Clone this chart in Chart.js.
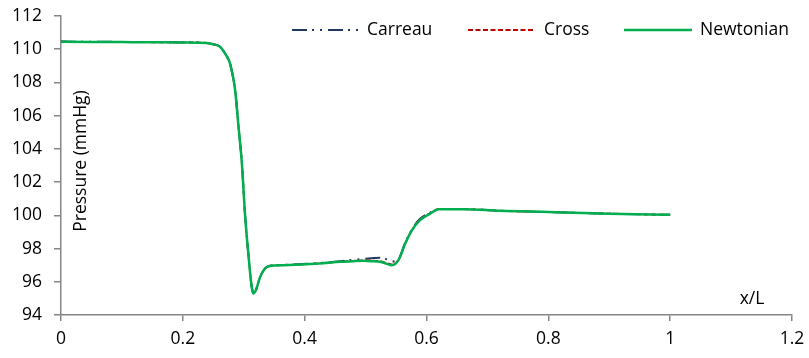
<!DOCTYPE html>
<html><head><meta charset="utf-8">
<script src="https://cdn.jsdelivr.net/npm/chart.js@4"></script>
<style>html,body{margin:0;padding:0;background:#fff}#wrap{width:809px;height:358px;position:relative}</style>
</head><body><div id="wrap"><canvas id="c"></canvas></div>
<script>
const xValues   = [0, 0.05, 0.10, 0.15, 0.20, 0.239, 0.25, 0.261, 0.27, 0.277, 0.282, 0.286, 0.291, 0.297, 0.302, 0.308, 0.313, 0.316, 0.320, 0.327, 0.335, 0.343, 0.365, 0.403, 0.430, 0.458, 0.480, 0.496, 0.510, 0.524, 0.535, 0.543, 0.554, 0.565, 0.576, 0.589, 0.606, 0.620, 0.661, 0.721, 0.80, 0.90, 1.00];
const newtonian = [110.45, 110.44, 110.43, 110.42, 110.41, 110.38, 110.3, 110.15, 109.7, 109.2, 108.4, 107.5, 105.5, 103.1, 100.1, 97.5, 95.7, 95.3, 95.5, 96.3, 96.8, 96.95, 97.0, 97.06, 97.12, 97.2, 97.24, 97.26, 97.24, 97.2, 97.08, 97.0, 97.3, 98.3, 99.1, 99.7, 100.1, 100.37, 100.37, 100.27, 100.2, 100.1, 100.03];
const cross     = [110.45, 110.44, 110.43, 110.42, 110.41, 110.38, 110.3, 110.15, 109.7, 109.2, 108.4, 107.5, 105.5, 103.1, 100.1, 97.5, 95.7, 95.3, 95.5, 96.3, 96.8, 96.95, 97.0, 97.06, 97.12, 97.21, 97.26, 97.29, 97.28, 97.24, 97.12, 97.04, 97.32, 98.3, 99.1, 99.72, 100.12, 100.37, 100.37, 100.27, 100.2, 100.1, 100.03];
const carreau   = [110.46, 110.45, 110.44, 110.43, 110.41, 110.38, 110.3, 110.15, 109.7, 109.2, 108.4, 107.5, 105.5, 103.1, 100.1, 97.5, 95.7, 95.3, 95.5, 96.3, 96.8, 96.97, 97.02, 97.08, 97.15, 97.24, 97.32, 97.38, 97.42, 97.45, 97.35, 97.22, 97.36, 98.35, 99.15, 99.78, 100.16, 100.38, 100.38, 100.28, 100.2, 100.1, 100.03];
const xTickLabels = ['0', '0.2', '0.4', '0.6', '0.8', '1', '1.2'];
const yTickLabels = ['94', '96', '98', '100', '102', '104', '106', '108', '110', '112'];
const seriesNames = ['Carreau', 'Cross', 'Newtonian'];

const FONT = '"Open Sans", Lato, sans-serif';
const FSIZE = 17.5;
const AXIS = '#868686';
const pts = arr => xValues.map((x, i) => ({x: x, y: arr[i]}));

const styles = [
  {color: '#1F3864', dash: [15, 5, 2, 6, 2, 6], width: 2, order: 2},
  {color: '#C00000', dash: [5, 2.5], width: 1.8, order: 1},
  {color: '#00B050', dash: [], width: 2.5, order: 0}
];
const seriesData = [carreau, cross, newtonian];

const overlay = {
  id: 'overlay',
  afterDraw(chart) {
    const ctx = chart.ctx;
    ctx.save();
    ctx.fillStyle = '#000';
    ctx.font = FSIZE + 'px ' + FONT;
    ctx.textBaseline = 'middle';
    const lx = [[292, 358, 367], [468, 535, 544], [624, 692, 700]];
    seriesNames.forEach((n, i) => {
      const s = styles[i];
      ctx.beginPath();
      ctx.strokeStyle = s.color;
      ctx.lineWidth = s.width;
      ctx.setLineDash(s.dash);
      ctx.moveTo(lx[i][0], 30); ctx.lineTo(lx[i][1], 30);
      ctx.stroke();
      ctx.setLineDash([]);
      ctx.textAlign = 'left';
      ctx.fillText(n, lx[i][2], 30);
    });
    ctx.textAlign = 'center';
    ctx.fillText('x/L', 752, 299);
    ctx.translate(81, 161);
    ctx.rotate(-Math.PI / 2);
    ctx.fillText('Pressure (mmHg)', 0, 0);
    ctx.restore();
  }
};

new Chart(document.getElementById('c'), {
  type: 'line',
  data: {
    datasets: seriesNames.map((n, i) => ({
      label: n,
      data: pts(seriesData[i]),
      borderColor: styles[i].color,
      borderDash: styles[i].dash,
      borderWidth: styles[i].width,
      order: styles[i].order,
      pointRadius: 0,
      fill: false,
      cubicInterpolationMode: 'monotone'
    }))
  },
  options: {
    responsive: true,
    maintainAspectRatio: false,
    animation: false,
    devicePixelRatio: 1,
    layout: {padding: {top: 16, right: 17, left: 0, bottom: 0}},
    plugins: {legend: {display: false}, tooltip: {enabled: false}},
    scales: {
      x: {
        type: 'linear', min: 0, max: 1.2,
        afterFit(s) { s.height = 43; s.paddingLeft = 0; s.paddingRight = 0; },
        afterBuildTicks(s) { s.ticks = xTickLabels.map(t => ({value: parseFloat(t)})); },
        ticks: {callback: (v, i) => xTickLabels[i], font: {family: FONT, size: FSIZE}, color: '#000', padding: 8, maxRotation: 0, autoSkip: false},
        grid: {drawOnChartArea: false, drawTicks: true, tickLength: 6, color: AXIS, lineWidth: 1.5},
        border: {color: AXIS, width: 1.5}
      },
      y: {
        min: 94, max: 112,
        afterFit(s) { s.width = 61; s.paddingTop = 0; s.paddingBottom = 0; },
        afterBuildTicks(s) { s.ticks = yTickLabels.map(t => ({value: parseFloat(t)})); },
        ticks: {callback: (v, i) => yTickLabels[i], font: {family: FONT, size: FSIZE}, color: '#000', padding: 12, autoSkip: false},
        grid: {drawOnChartArea: false, drawTicks: true, tickLength: 7, color: AXIS, lineWidth: 1.5},
        border: {color: AXIS, width: 1.5}
      }
    }
  },
  plugins: [overlay]
});
</script></body></html>
